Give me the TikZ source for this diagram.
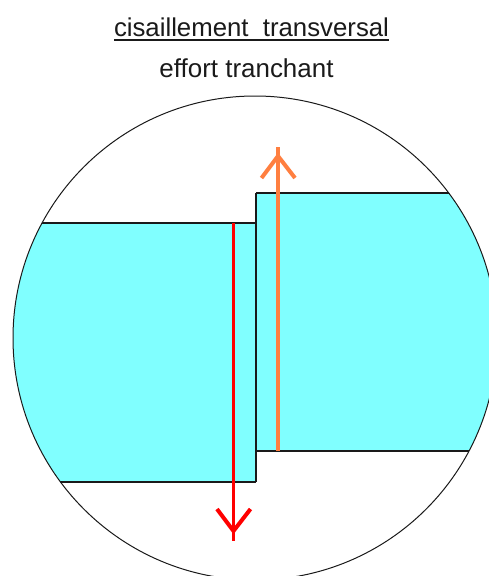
\documentclass[tikz,border=0pt]{standalone}
\usepackage{fontspec}
\setmainfont{Liberation Sans}
\definecolor{aqua}{HTML}{80FFFF}
\definecolor{orangeforce}{HTML}{FF7F40}
\definecolor{redforce}{HTML}{FF0000}
\definecolor{inkline}{HTML}{1A1A1A}
\tikzset{
  outline/.style={draw=inkline,line width=1.3pt},
  thin outline/.style={draw=inkline,line width=1pt},
  force/.style={line width=3.2pt,line cap=butt},
  barb/.style={line width=4pt,line cap=butt,line join=miter},
  caption/.style={inner sep=0pt,text=inkline,font=\fontsize{23.5}{28}\selectfont}
}
\begin{document}
\begin{tikzpicture}[x=1pt,y=-1pt]
\useasboundingbox (0,0) rectangle (489,576);
\clip (0,0) rectangle (489,576);
\fill[white] (0,0) rectangle (489,576);
\coordinate (c) at (255,338);
% cyan body
\begin{scope}
  \clip (c) circle (242);
  \fill[aqua] (0,223) -- (256,223) -- (256,193) -- (489,193) -- (489,451) -- (256,451) -- (256,482) -- (0,482) -- cycle;
  \draw[outline] (0,223) -- (256,223);
  \draw[outline] (256,193) -- (489,193);
  \draw[outline] (256,193) -- (256,482);
  \draw[outline] (0,482) -- (256,482);
  \draw[outline] (256,451) -- (489,451);
\end{scope}
\draw[thin outline] (c) circle (242);
% forces
\coordinate (redstart) at (233.5,223);
\coordinate (redend) at (233.5,541);
\coordinate (redapex) at (233.5,531);
\coordinate (redl) at (217,509);
\coordinate (redr) at (250.5,509);
\coordinate (orstart) at (278,451);
\coordinate (orend) at (278,147);
\coordinate (orapex) at (278,156);
\coordinate (orl) at (261.5,178);
\coordinate (orr) at (295,178);
\draw[force,redforce] (redstart) -- (redend);
\draw[barb,redforce] (redl) -- (redapex) -- (redr);
\draw[force,orangeforce] (orstart) -- (orend);
\draw[barb,orangeforce] (orl) -- (orapex) -- (orr);
% captions
\node[caption] (title) at (251.5,27) {\resizebox{275pt}{!}{cisaillement\ \ transversal}};
\coordinate (ula) at (114,40);
\coordinate (ulb) at (388.5,40);
\draw[draw=inkline,line width=1.3pt] (ula) -- (ulb);
\node[caption] (sub) at (246.5,68) {\resizebox{174pt}{!}{effort tranchant}};
\end{tikzpicture}
\end{document}
